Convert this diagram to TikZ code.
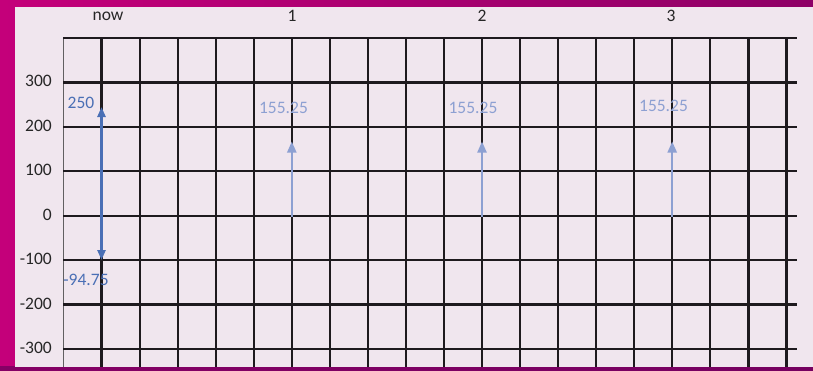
\documentclass[tikz,border=0pt]{standalone}
\usepackage{fontspec}
\setmainfont{Carlito}
\usetikzlibrary{arrows.meta}
\definecolor{frameL}{HTML}{C4007A}
\definecolor{frameR}{HTML}{8E0066}
\definecolor{frameB}{HTML}{760060}
\definecolor{paper}{HTML}{F0E6EE}
\definecolor{gridc}{HTML}{1E1A1E}
\definecolor{darkblue}{HTML}{4A6FB5}
\definecolor{lightblue}{HTML}{8DA0D2}
\tikzset{
  gridline/.style={draw=gridc, line width=2.2pt},
  thinline/.style={draw=gridc!70, line width=1pt},
  axislabel/.style={font=\fontsize{17.5}{19}\selectfont, text=black!85, inner sep=0pt},
  ticklabel/.style={font=\fontsize{17.5}{19}\selectfont, text=black!85, inner sep=0pt, anchor=east},
  vallabel/.style={font=\fontsize{17.5}{19}\selectfont, inner sep=0pt},
  nowarrow/.style={draw=darkblue, line width=2.4pt, {Triangle[length=10pt,width=8pt]}-{Triangle[length=10pt,width=8pt]}},
  cfarrow/.style={draw=lightblue, line width=2.2pt, -{Triangle[length=11pt,width=9pt]}},
}
\begin{document}
\begin{tikzpicture}[x=1pt,y=-1pt]
\useasboundingbox (0,0) rectangle (813,370);
% frame
\shade[left color=frameL, right color=frameR] (0,0) rectangle (813,370);
\shade[left color=frameB!80!frameL, right color=frameB] (0,366.5) rectangle (813,370);
\fill[paper] (15,7) rectangle (813,366.5);
% grid
\draw[thinline] (63.5,38) -- (63.5,366.5);
\foreach \k in {1,...,19}{
  \draw[gridline] ({63.5+38.05*\k},38) -- ({63.5+38.05*\k},366.5);
}
\foreach \j in {0,...,7}{
  \draw[gridline] (63,{38+44.4*\j}) -- (797,{38+44.4*\j});
}
% column labels
\node[axislabel] (lnow) at (108,16) {now};
\node[axislabel] (l1) at (292,16) {1};
\node[axislabel] (l2) at (482,16) {2};
\node[axislabel] (l3) at (671,16) {3};
% row labels
\node[ticklabel] (t300) at (52,81) {300};
\node[ticklabel] (t200) at (52,126) {200};
\node[ticklabel] (t100) at (52,170) {100};
\node[ticklabel] (t0) at (52,215) {0};
\node[ticklabel] (tm100) at (52,259) {-100};
\node[ticklabel] (tm200) at (52,304) {-200};
\node[ticklabel] (tm300) at (52,348) {-300};
% cash flow arrows
\coordinate (nowtop) at (101.5,107);
\coordinate (nowbot) at (101.5,260);
\draw[nowarrow] (nowbot) -- (nowtop);
\coordinate (a1b) at (291.8,216.5);
\coordinate (a1t) at (291.8,141.5);
\coordinate (a2b) at (482,216.5);
\coordinate (a2t) at (482,141.5);
\coordinate (a3b) at (672.2,216.5);
\coordinate (a3t) at (672.2,141.5);
\draw[cfarrow] (a1b) -- (a1t);
\draw[cfarrow] (a2b) -- (a2t);
\draw[cfarrow] (a3b) -- (a3t);
% value labels
\node[vallabel, text=darkblue] (v250) at (81,103) {250};
\node[vallabel, text=darkblue] (vm94) at (86,280) {-94.75};
\node[vallabel, text=lightblue] (v1) at (283.5,108) {155.25};
\node[vallabel, text=lightblue] (v2) at (473,108) {155.25};
\node[vallabel, text=lightblue] (v3) at (663.5,106) {155.25};
\end{tikzpicture}
\end{document}
